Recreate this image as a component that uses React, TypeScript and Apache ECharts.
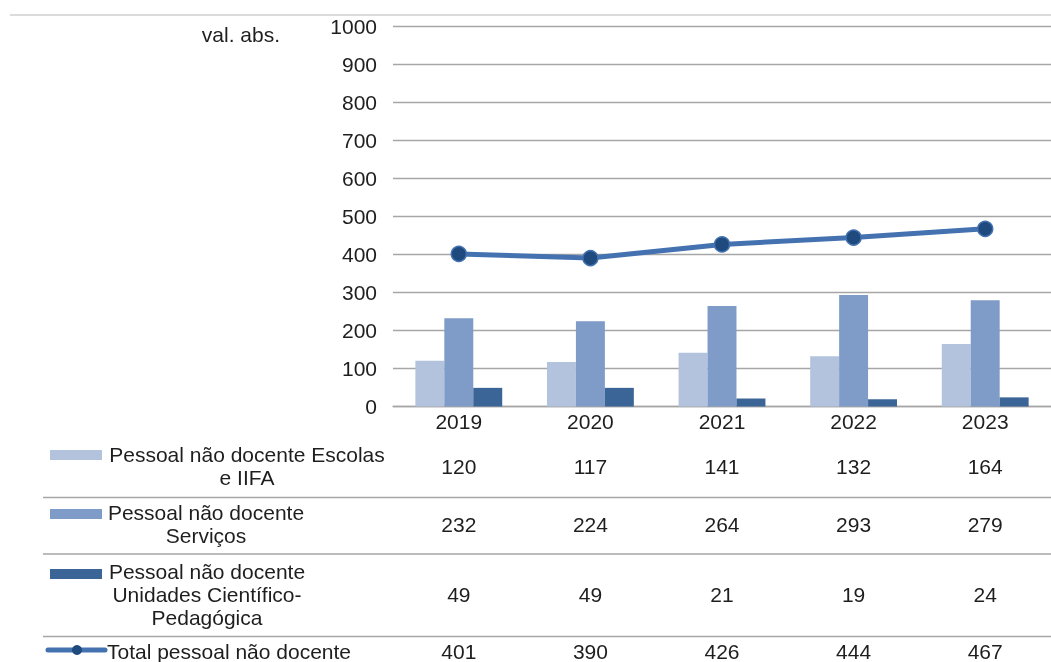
import React, { useEffect, useRef } from "react";
import * as echarts from "echarts";

const years = ["2019", "2020", "2021", "2022", "2023"];
const escolas = [120, 117, 141, 132, 164];
const servicos = [232, 224, 264, 293, 279];
const unidades = [49, 49, 21, 19, 24];
const totals = [401, 390, 426, 444, 467];
const yTicks = { min: 0, max: 1000, interval: 100 };

const seriesNames = [
  "Pessoal não docente Escolas e IIFA",
  "Pessoal não docente Serviços",
  "Pessoal não docente Unidades Científico-Pedagógica",
  "Total pessoal não docente",
];

const C_LIGHT = "#B3C3DE";
const C_MID = "#7F9BC7";
const C_DARK = "#3B6497";
const C_LINE = "#4472B0";
const C_MARK = "#1F4A7E";
const GRID = "#A6A6A6";
const FONT = "'Liberation Sans', Arial, sans-serif";
const TXT = "#1E1E1E";
const FS = 21;

export default function App() {
  const ref = useRef<HTMLDivElement>(null);
  useEffect(() => {
    if (!ref.current) return;
    const chart = echarts.init(ref.current, null, { renderer: "svg" });
    const baseY = 407;
    const tableAxis = (vals: number[], centerY: number) => ({
      type: "category",
      data: years,
      position: "bottom",
      axisLine: { show: false },
      axisTick: { show: false },
      splitLine: { show: false },
      axisLabel: {
        margin: centerY - baseY,
        verticalAlign: "middle",
        fontSize: FS,
        fontFamily: FONT,
        color: TXT,
        formatter: (_v: string, i: number) => String(vals[i]),
      },
    });
    const hline = (y: number, x1: number, x2: number, color: string) => ({
      type: "line",
      shape: { x1, y1: y, x2, y2: y },
      style: { stroke: color, lineWidth: 1.3 },
      silent: true,
    });
    const label = (text: string, x: number, y: number, align: string) => ({
      type: "text",
      x,
      y,
      style: {
        text,
        fill: TXT,
        font: `${FS}px ${FONT}`,
        textAlign: align,
        textVerticalAlign: "middle",
        lineHeight: 23,
      },
    });
    chart.setOption({
      animation: false,
      grid: { left: 393, right: 0, top: 26, bottom: 662 - baseY, containLabel: false },
      xAxis: [
        {
          type: "category",
          data: years,
          axisLine: { show: true, lineStyle: { color: GRID, width: 1.3 } },
          axisTick: { show: false },
          axisLabel: {
            margin: 422 - baseY,
            verticalAlign: "middle",
            fontSize: FS,
            fontFamily: FONT,
            color: TXT,
          },
        },
        tableAxis(escolas, 467),
        tableAxis(servicos, 525),
        tableAxis(unidades, 595),
        tableAxis(totals, 652),
      ],
      yAxis: {
        type: "value",
        min: yTicks.min,
        max: yTicks.max,
        interval: yTicks.interval,
        axisLine: { show: false },
        axisTick: { show: false },
        splitLine: { lineStyle: { color: GRID, width: 1.3 } },
        axisLabel: {
          fontSize: FS,
          fontFamily: FONT,
          color: TXT,
          margin: 16,
          formatter: (v: number) => String(v),
        },
      },
      series: [
        { name: seriesNames[0], type: "bar", data: escolas, itemStyle: { color: C_LIGHT }, barGap: "0%", barCategoryGap: "34%" },
        { name: seriesNames[1], type: "bar", data: servicos, itemStyle: { color: C_MID }, barGap: "0%", barCategoryGap: "34%" },
        { name: seriesNames[2], type: "bar", data: unidades, itemStyle: { color: C_DARK }, barGap: "0%", barCategoryGap: "34%" },
        {
          name: seriesNames[3],
          type: "line",
          data: totals,
          symbol: "circle",
          symbolSize: 15,
          lineStyle: { color: C_LINE, width: 5 },
          itemStyle: { color: C_MARK, borderColor: C_LINE, borderWidth: 1.5 },
          z: 5,
        },
      ],
      graphic: [
        hline(15, 10, 1051, "#CFCFCF"),
        hline(497.5, 43, 1051, GRID),
        hline(554, 43, 1051, GRID),
        hline(636.5, 43, 1051, GRID),
        label("val. abs.", 280, 34, "right"),
        { type: "rect", shape: { x: 50, y: 450, width: 52, height: 10 }, style: { fill: C_LIGHT } },
        { type: "rect", shape: { x: 50, y: 509, width: 52, height: 10 }, style: { fill: C_MID } },
        { type: "rect", shape: { x: 50, y: 569, width: 52, height: 10 }, style: { fill: C_DARK } },
        { type: "line", shape: { x1: 48, y1: 650, x2: 105, y2: 650 }, style: { stroke: C_LINE, lineWidth: 5, lineCap: "round" } },
        { type: "circle", shape: { cx: 77, cy: 650, r: 5 }, style: { fill: C_MARK } },
        label("Pessoal não docente Escolas\ne IIFA", 247, 466, "center"),
        label("Pessoal não docente\nServiços", 206, 524, "center"),
        label("Pessoal não docente\nUnidades Científico-\nPedagógica", 207, 594, "center"),
        label("Total pessoal não docente", 107, 651, "left"),
      ],
    });
    return () => chart.dispose();
  }, []);
  return (
    <div
      ref={ref}
      style={{ position: "fixed", left: 0, top: 0, width: 1051, height: 662 }}
    />
  );
}
